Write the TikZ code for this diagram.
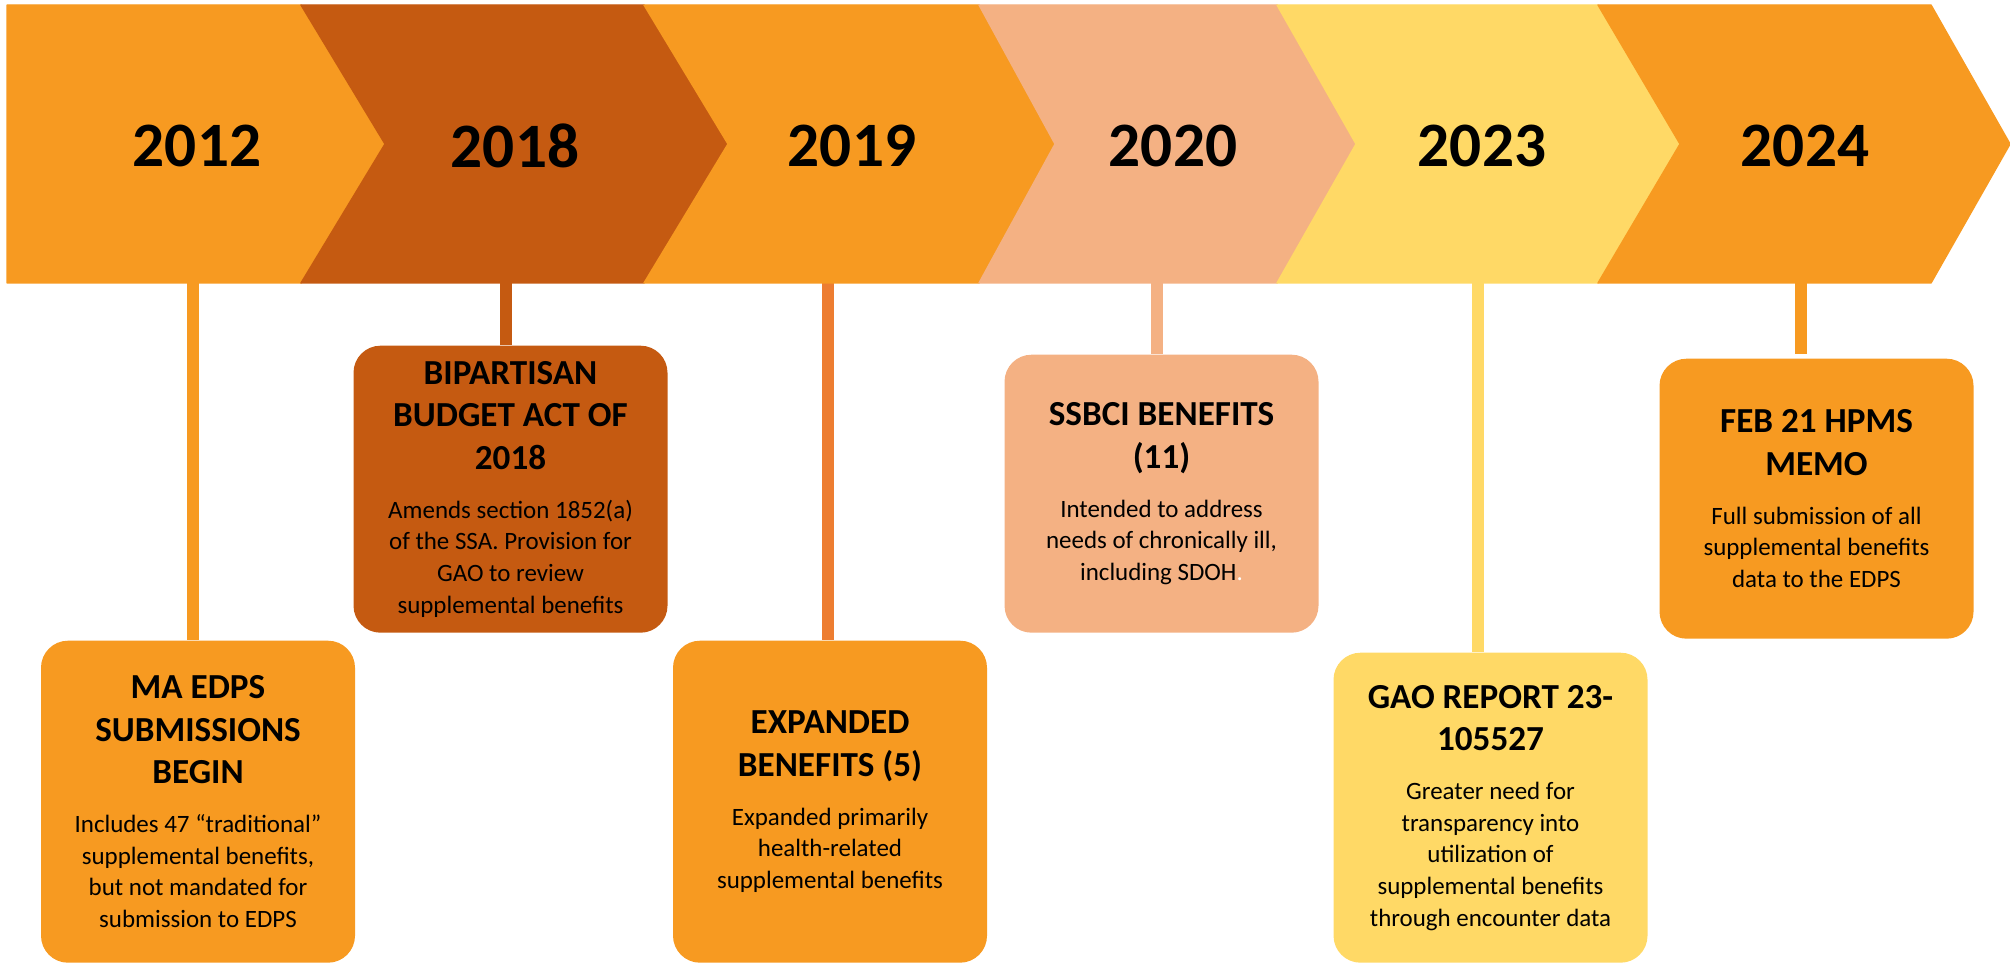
\documentclass[tikz,border=0pt]{standalone}
\usepackage{fontspec}
\setmainfont{Carlito}
\definecolor{tlorange}{RGB}{247,154,33}
\definecolor{tlrust}{RGB}{197,90,17}
\definecolor{tlsalmon}{RGB}{244,177,131}
\definecolor{tlyellow}{RGB}{255,217,102}
\definecolor{tlline}{RGB}{237,125,49}
\newcommand{\evtext}[2]{{\bfseries\fontsize{10}{12.1}\selectfont #1\par}\vskip 4.9pt{\fontsize{7.1}{9}\selectfont #2\par}}

\begin{document}
\begin{tikzpicture}[
    yearlbl/.style={font=\bfseries\fontsize{18}{22}\selectfont},
    evbox/.style={fill=#1, rounded corners=0.27cm, anchor=north, minimum width=3.14cm, text width=2.95cm, align=flush center, inner sep=0pt},
    stem/.style={draw=#1, line width=3.3pt}
]
                \useasboundingbox (0,0) rectangle (20.10,9.64);
                \node[evbox=tlorange, minimum height=3.22cm] (b2012) at (1.98,3.24) {\evtext{MA EDPS\\SUBMISSIONS\\BEGIN}{Includes 47 “traditional”\\supplemental benefits,\\but not mandated for\\submission to EDPS}};
                \node[evbox=tlrust, minimum height=2.87cm] (b2018) at (5.105,6.19) {\evtext{BIPARTISAN\\BUDGET ACT OF\\2018}{Amends section 1852(a)\\of the SSA. Provision for\\GAO to review\\supplemental benefits}};
                \node[evbox=tlorange, minimum height=3.22cm] (b2019) at (8.30,3.24) {\evtext{EXPANDED\\BENEFITS (5)}{Expanded primarily\\health-related\\supplemental benefits}};
                \node[evbox=tlsalmon, minimum height=2.78cm] (b2020) at (11.615,6.10) {\evtext{SSBCI BENEFITS\\(11)}{Intended to address\\needs of chronically ill,\\including SDOH{\color{white}.}}};
                \node[evbox=tlyellow, minimum height=3.10cm] (b2023) at (14.905,3.12) {\evtext{GAO REPORT 23-\\105527}{Greater need for\\transparency into\\utilization of\\supplemental benefits\\through encounter data}};
                \node[evbox=tlorange, minimum height=2.80cm] (b2024) at (18.165,6.06) {\evtext{FEB 21 HPMS\\MEMO}{Full submission of all\\supplemental benefits\\data to the EDPS}};
                \coordinate (s2012) at (1.93,6.90);
                \coordinate (s2018) at (5.06,6.90);
                \coordinate (s2019) at (8.28,6.90);
                \coordinate (s2020) at (11.57,6.90);
                \coordinate (s2023) at (14.78,6.90);
                \coordinate (s2024) at (18.01,6.90);
                \draw[stem=tlorange] (s2012) -- (s2012 |- b2012.north);
                \draw[stem=tlrust] (s2018) -- (s2018 |- b2018.north);
                \draw[stem=tlline] (s2019) -- (s2019 |- b2019.north);
                \draw[stem=tlsalmon] (s2020) -- (s2020 |- b2020.north);
                \draw[stem=tlyellow] (s2023) -- (s2023 |- b2023.north);
                \draw[stem=tlorange] (s2024) -- ([yshift=0.04cm]s2024 |- b2024.north);
                \foreach \a/\b/\c/\d/\col in {0.07/0.07/3.01/3.85/tlorange, 3.01/3.85/6.44/7.28/tlrust, 6.44/7.28/9.79/10.55/tlorange, 9.79/10.55/12.77/13.56/tlsalmon, 12.77/13.56/15.98/16.80/tlyellow, 15.98/16.80/19.31/20.10/tlorange}
                    \filldraw[fill=\col, draw=\col, line width=0.4pt, line join=round] (\a,9.59) -- (\c,9.59) -- (\d,8.20) -- (\c,6.81) -- (\a,6.81) -- (\b,8.20) -- cycle;
                \node[yearlbl] (y2012) at (1.97,8.18) {2012};
                \node[yearlbl] (y2018) at (5.15,8.18) {2018};
                \node[yearlbl] (y2019) at (8.52,8.18) {2019};
                \node[yearlbl] (y2020) at (11.73,8.18) {2020};
                \node[yearlbl] (y2023) at (14.82,8.18) {2023};
                \node[yearlbl] (y2024) at (18.05,8.18) {2024};
\end{tikzpicture}
\end{document}
